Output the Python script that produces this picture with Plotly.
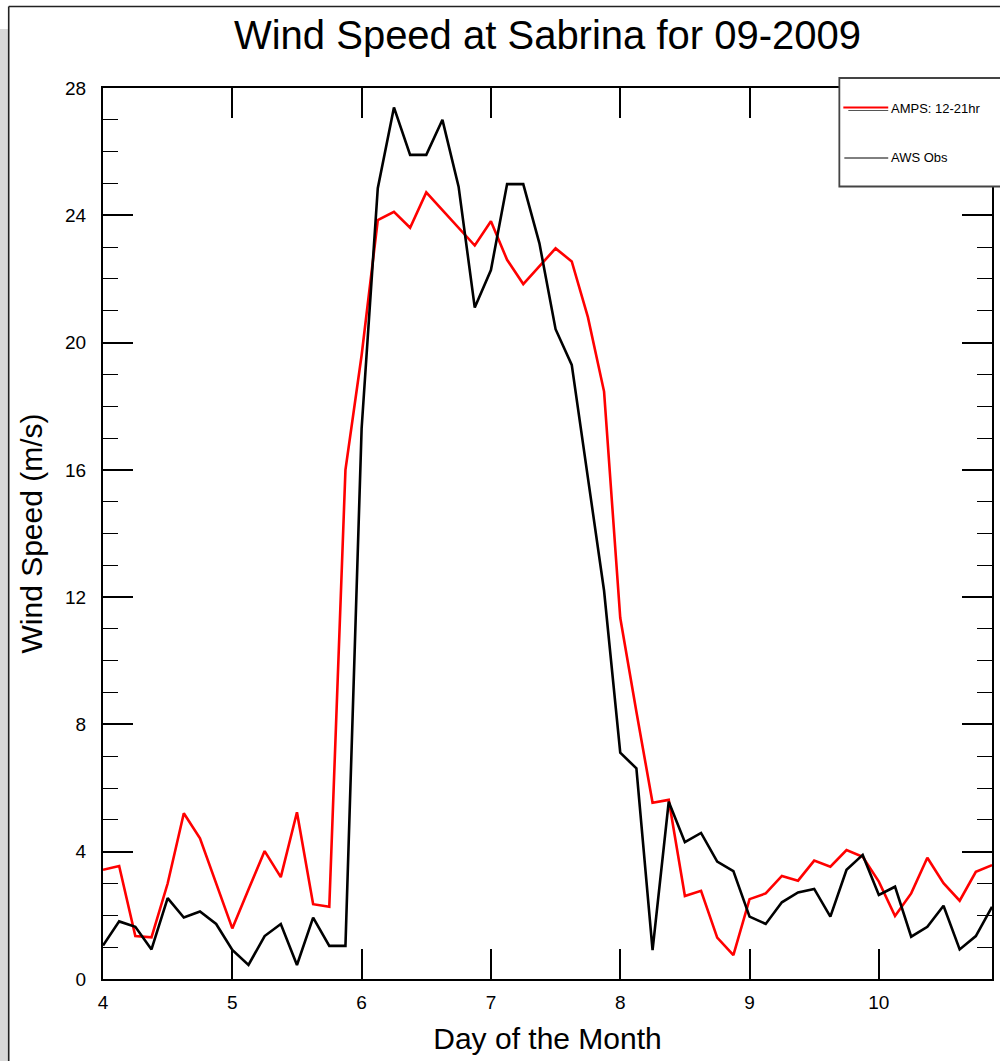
import plotly.graph_objects as go

# 3-hourly time axis, day of month (4.000 ... 10.875)
days = [4 + 0.125 * k for k in range(56)]

amps_12_21hr = [
    3.43, 3.55, 1.35, 1.31, 3.00, 5.21, 4.42, 3.00,
    1.59, 2.81, 4.02, 3.20, 5.24, 2.35, 2.27, 16.00,
    19.60, 23.85, 24.11, 23.61, 24.72, 24.16, 23.60, 23.05,
    23.81, 22.60, 21.84, 22.40, 22.96, 22.55, 20.80, 18.46,
    11.35, 8.40, 5.54, 5.63, 2.61, 2.77, 1.30, 0.75,
    2.51, 2.69, 3.24, 3.09, 3.72, 3.53, 4.05, 3.84,
    3.06, 1.98, 2.69, 3.81, 3.01, 2.46, 3.37, 3.58,
]

aws_obs = [
    1.05, 1.81, 1.64, 0.93, 2.54, 1.93, 2.12, 1.73,
    0.91, 0.44, 1.35, 1.73, 0.44, 1.93, 1.04, 1.04,
    17.30, 24.85, 27.39, 25.90, 25.90, 27.00, 24.90, 21.10,
    22.28, 24.98, 24.98, 23.12, 20.42, 19.30, 15.75, 12.20,
    7.11, 6.62, 0.91, 5.57, 4.30, 4.59, 3.69, 3.39,
    1.96, 1.73, 2.41, 2.72, 2.83, 1.96, 3.43, 3.90,
    2.64, 2.90, 1.33, 1.64, 2.30, 0.93, 1.35, 2.27,
]

x_ticks = [4, 5, 6, 7, 8, 9, 10]
y_ticks = [0, 4, 8, 12, 16, 20, 24, 28]
series_names = ["AMPS: 12-21hr", "AWS Obs"]

FONT = "Liberation Sans, Arial, Helvetica, sans-serif"

fig = go.Figure()
fig.add_trace(go.Scatter(x=days, y=amps_12_21hr, mode="lines", name=series_names[0],
                         line=dict(color="#ff0000", width=2.6), showlegend=False))
fig.add_trace(go.Scatter(x=days, y=aws_obs, mode="lines", name=series_names[1],
                         line=dict(color="#000000", width=2.6), showlegend=False))

W, H = 1000, 1061
L, R, T, B = 103, 6, 88, 82
pw, ph = W - L - R, H - T - B


def px(xp):
    return (xp - L) / pw


def py(yp):
    return (H - B - yp) / ph


fig.update_layout(
    width=W, height=H,
    margin=dict(l=L, r=R, t=T, b=B),
    paper_bgcolor="white", plot_bgcolor="white",
    font=dict(family=FONT, color="black"),
    title=dict(text="Wind Speed at Sabrina for 09-2009", x=0.5, xref="paper",
               y=1 - 35 / H, yref="container", xanchor="center", yanchor="middle",
               font=dict(size=40, family=FONT, color="black")),
    showlegend=False,
)

fig.update_xaxes(
    range=[4, 10.875], tickvals=x_ticks, ticktext=[str(v) for v in x_ticks],
    ticks="inside", ticklen=30, tickwidth=1.6, tickcolor="black",
    showline=True, linecolor="black", linewidth=2, mirror="ticks",
    showgrid=False, zeroline=False,
    tickfont=dict(size=19, family=FONT, color="black"), ticklabelstandoff=5,
    title=dict(text="Day of the Month", font=dict(size=30, family=FONT, color="black"), standoff=16),
)
fig.update_yaxes(
    range=[0, 28], tickvals=y_ticks, ticktext=[str(v) for v in y_ticks],
    ticks="inside", ticklen=30, tickwidth=1.6, tickcolor="black",
    minor=dict(dtick=1, ticks="inside", ticklen=15, tickwidth=1.2, tickcolor="black", showgrid=False),
    showline=True, linecolor="black", linewidth=2, mirror="ticks",
    showgrid=False, zeroline=False,
    tickfont=dict(size=19, family=FONT, color="black"), ticklabelstandoff=11,
    title=dict(text="Wind Speed (m/s)", font=dict(size=30, family=FONT, color="black"), standoff=14),
)

shapes = []
# page decoration: grey strip on left and a dark frame
shapes.append(dict(type="rect", xref="paper", yref="paper", x0=px(-2), x1=px(8), y0=py(H + 2), y1=py(29),
                   fillcolor="#d9d9d9", line=dict(width=0), layer="below"))
shapes.append(dict(type="line", xref="paper", yref="paper", x0=px(8.5), x1=px(8.5), y0=py(6.5), y1=py(H + 2),
                   line=dict(color="#222222", width=1.6)))
shapes.append(dict(type="line", xref="paper", yref="paper", x0=px(8.5), x1=px(W + 2), y0=py(6.5), y1=py(6.5),
                   line=dict(color="#222222", width=1.6)))
# legend box
shapes.append(dict(type="rect", xref="paper", yref="paper", x0=px(841), x1=px(W + 20), y0=py(186.5), y1=py(78),
                   fillcolor="white", line=dict(color="#444444", width=1.8), layer="above"))
# legend samples
shapes.append(dict(type="line", xref="paper", yref="paper", x0=px(850), x1=px(890), y0=py(110.5), y1=py(110.5),
                   line=dict(color="#555555", width=1), layer="above"))
shapes.append(dict(type="line", xref="paper", yref="paper", x0=px(845), x1=px(890), y0=py(107.5), y1=py(107.5),
                   line=dict(color="#ff0000", width=2), layer="above"))
shapes.append(dict(type="line", xref="paper", yref="paper", x0=px(846), x1=px(890), y0=py(158), y1=py(158),
                   line=dict(color="#000000", width=1), layer="above"))
fig.update_layout(shapes=shapes)

fig.update_layout(annotations=[
    dict(text=series_names[0], xref="paper", yref="paper", x=px(891), y=py(108), xanchor="left", yanchor="middle",
         showarrow=False, font=dict(size=13, family=FONT, color="black")),
    dict(text=series_names[1], xref="paper", yref="paper", x=px(891), y=py(158), xanchor="left", yanchor="middle",
         showarrow=False, font=dict(size=13, family=FONT, color="black")),
])

fig.write_html("out.html",
               config={"displayModeBar": False},
               post_script="document.body.style.margin='0px';document.body.style.overflow='hidden';")
